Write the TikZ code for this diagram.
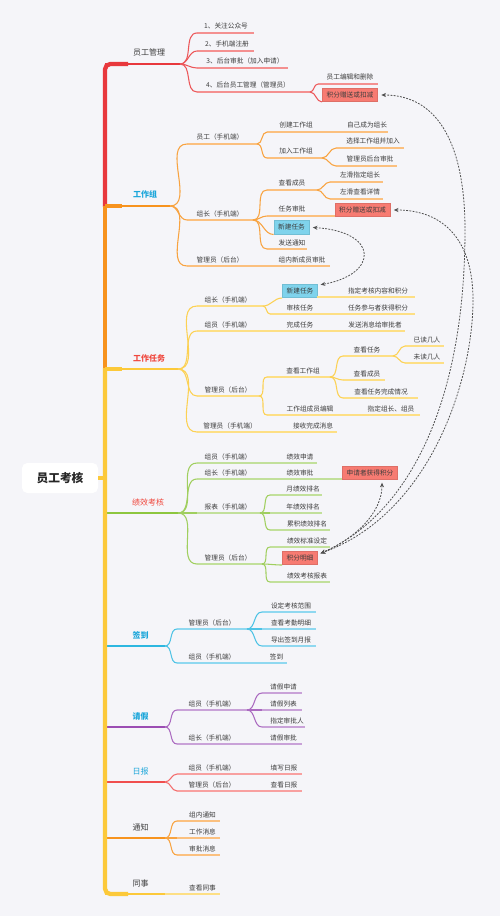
\documentclass[tikz,border=0pt]{standalone}
\usepackage{fontspec}
\setmainfont{Noto Sans CJK SC}
\usetikzlibrary{arrows.meta}
\definecolor{bg}{HTML}{F5F5F9}
\definecolor{txtc}{HTML}{3D3D3D}
\definecolor{kred}{HTML}{E8383D}
\definecolor{kredl}{HTML}{F49090}
\definecolor{korange}{HTML}{F7931E}
\definecolor{korangel}{HTML}{FBC07F}
\definecolor{kyellow}{HTML}{FCC93A}
\definecolor{kyellowl}{HTML}{FDDF85}
\definecolor{kgreen}{HTML}{8DC63F}
\definecolor{kgreenl}{HTML}{C2E09B}
\definecolor{kcyan}{HTML}{2DB7E0}
\definecolor{kcyanl}{HTML}{8FD8F0}
\definecolor{kpurple}{HTML}{9B4DB3}
\definecolor{kpurplel}{HTML}{C9A2D8}
\definecolor{kred2}{HTML}{F04E4E}
\definecolor{kred2l}{HTML}{F8A0A0}
\definecolor{tcyan}{HTML}{1BA6DA}
\definecolor{tred}{HTML}{F0483E}
\definecolor{boxred}{HTML}{F77B72}
\definecolor{boxcyan}{HTML}{7FD3EC}
\definecolor{relc}{HTML}{505050}
\newcommand\mmcol[2]{\colorlet{bc}{#1}\colorlet{bcl}{#2}\colorlet{bcm}{#1!65!#2}}
\newcommand\mmtopic[6]{%
  \coordinate (#1s) at (#2,#4);
  \coordinate (#1e) at (#3,#4);
  \draw[ul] (#1s) -- (#1e);
  \node[txt] (#1) at (#5,#4-4) {#6};}
\newcommand\mmmain[6]{%
  \coordinate (#1s) at (105,#2);
  \coordinate (#1e) at (#3,#2);
  \draw[mbr] (#1s) -- (#1e);
  \node[mlab,#5] (#1) at (#4,#2-8) {#6};}
\newcommand\mmlink[2]{\draw[cbr] (#1) to[out=0,in=180] (#2);}
\begin{document}
\begin{tikzpicture}[x=0.75pt,y=-0.75pt,
 txt/.style={font=\fontsize{5}{6}\selectfont, text=txtc, anchor=base, inner sep=0pt},
 mlab/.style={font=\fontsize{6}{7.5}\selectfont, anchor=base, inner sep=0pt},
 trunk/.style={line width=3.2pt},
 mbr/.style={line width=1.7pt, bc},
 cbr/.style={line width=0.8pt, bcm},
 ul/.style={line width=0.8pt, bcl},
 hbox/.style={font=\fontsize{5}{6}\selectfont, text=txtc, inner xsep=3.2pt, inner ysep=0pt, minimum height=10pt, text height=4.3pt, text depth=0.9pt, line width=0.5pt},
 rbox/.style={hbox, fill=boxred, draw=boxred!90!black},
 cbox/.style={hbox, fill=boxcyan, draw=boxcyan!90!black},
 rell/.style={relc, line width=0.6pt, dash pattern=on 1.4pt off 1pt, {Stealth[length=3.5pt,width=3pt]}-{Stealth[length=3.5pt,width=3pt]}}
]
\useasboundingbox (0,0) rectangle (500,916);
\fill[bg] (0,0) rectangle (500,916);

% ---------- 员工管理
\mmcol{kred}{kredl}
\mmmain{m1}{64}{180}{149}{text=txtc}{员工管理}
\mmtopic{a1}{197}{254}{33}{226}{1、关注公众号}
\mmtopic{a2}{197}{254}{51}{227}{2、手机端注册}
\mmtopic{a3}{197}{288}{68}{245}{3、后台审批（加入申请）}
\mmtopic{a4}{197}{310}{92}{248}{4、后台员工管理（管理员）}
\mmtopic{a41}{318}{378}{84}{350}{员工编辑和删除}
\node[rbox] (a42) at (350,95) {积分赠送或扣减};
\mmlink{m1e}{a1s}\mmlink{m1e}{a2s}\mmlink{m1e}{a3s}\mmlink{m1e}{a4s}
\mmlink{a4e}{a41s}\mmlink{a4e}{a42.south west}

% ---------- 工作组
\mmcol{korange}{korangel}
\mmmain{m2}{206}{170}{145}{text=tcyan}{\bfseries 工作组}
\mmtopic{b1}{187}{257}{144}{220}{员工（手机端）}
\mmtopic{b11}{267}{330}{132}{296}{创建工作组}
\mmtopic{b111}{330}{388}{132}{367}{自己成为组长}
\mmtopic{b12}{267}{322}{158}{296}{加入工作组}
\mmtopic{b121}{336}{404}{148}{373}{选择工作组并加入}
\mmtopic{b122}{336}{397}{166}{370}{管理员后台审批}
\mmtopic{b2}{187}{253}{220}{220}{组长（手机端）}
\mmtopic{b21}{267}{317}{190}{292}{查看成员}
\mmtopic{b211}{330}{383}{182}{360}{左滑指定组长}
\mmtopic{b212}{330}{383}{199}{360}{左滑查看详情}
\mmtopic{b22}{267}{335}{216}{292}{任务审批}
\node[rbox] (b221) at (362.5,210) {积分赠送或扣减};
\node[cbox] (b23) at (291.5,227.5) {新建任务};
\mmtopic{b24}{267}{307}{249}{292}{发送通知}
\mmtopic{b3}{187}{262}{266}{220}{管理员（后台）}
\mmtopic{b31}{262}{330}{266}{302}{组内新成员审批}
\mmlink{m2e}{b1s}\mmlink{m2e}{b2s}\mmlink{m2e}{b3s}
\mmlink{b1e}{b11s}\mmlink{b1e}{b12s}
\mmlink{b12e}{b121s}\mmlink{b12e}{b122s}
\mmlink{b2e}{b21s}\mmlink{b2e}{b22s}\mmlink{b2e}{b23.south west}\mmlink{b2e}{b24s}
\mmlink{b21e}{b211s}\mmlink{b21e}{b212s}

% ---------- 工作任务
\mmcol{kyellow}{kyellowl}
\mmmain{m3}{369}{178}{149}{text=tred}{\bfseries 工作任务}
\mmtopic{c1}{197}{263}{306}{228}{组长（手机端）}
\node[cbox] (c11) at (300,291) {新建任务};
\mmtopic{c111}{317}{415}{297}{378}{指定考核内容和积分}
\mmtopic{c12}{270}{330}{314}{300}{审核任务}
\mmtopic{c121}{330}{415}{314}{378}{任务参与者获得积分}
\mmtopic{c2}{197}{263}{331}{228}{组员（手机端）}
\mmtopic{c21}{263}{330}{331}{300}{完成任务}
\mmtopic{c211}{330}{405}{331}{375}{发送消息给审批者}
\mmtopic{c3}{197}{259}{396}{228}{管理员（后台）}
\mmtopic{c31}{267}{330}{377}{303}{查看工作组}
\mmtopic{c311}{343}{393}{356}{367}{查看任务}
\mmtopic{c3111}{405}{444}{346}{427}{已读几人}
\mmtopic{c3112}{405}{444}{363}{427}{未读几人}
\mmtopic{c312}{343}{385}{380}{367}{查看成员}
\mmtopic{c313}{343}{418}{398}{381}{查看任务完成情况}
\mmtopic{c32}{267}{350}{415}{310}{工作组成员编辑}
\mmtopic{c321}{350}{420}{415}{391}{指定组长、组员}
\mmtopic{c4}{197}{270}{432}{230}{管理员（手机端）}
\mmtopic{c41}{270}{337}{432}{313}{接收完成消息}
\mmlink{m3e}{c1s}\mmlink{m3e}{c2s}\mmlink{m3e}{c3s}\mmlink{m3e}{c4s}
\mmlink{c1e}{c11.south west}\mmlink{c1e}{c12s}
\mmlink{c3e}{c31s}\mmlink{c3e}{c32s}
\mmlink{c31e}{c311s}\mmlink{c31e}{c312s}\mmlink{c31e}{c313s}
\mmlink{c311e}{c3111s}\mmlink{c311e}{c3112s}

% ---------- 绩效考核
\mmcol{kgreen}{kgreenl}
\mmmain{m4}{513}{178}{148}{text=tred}{绩效考核}
\mmtopic{d1}{197}{263}{463}{228}{组员（手机端）}
\mmtopic{d11}{263}{317}{463}{300}{绩效申请}
\mmtopic{d2}{197}{263}{479}{228}{组长（手机端）}
\mmtopic{d21}{263}{343}{479}{300}{绩效审批}
\node[rbox] (d211) at (370,473) {申请者获得积分};
\mmtopic{d3}{197}{260}{513}{228}{报表（手机端）}
\mmtopic{d31}{270}{322}{495}{303}{月绩效排名}
\mmtopic{d32}{270}{322}{513}{303}{年绩效排名}
\mmtopic{d33}{270}{330}{530}{307}{累积绩效排名}
\mmtopic{d4}{197}{262}{564}{228}{管理员（后台）}
\mmtopic{d41}{270}{330}{547}{307}{绩效标准设定}
\node[rbox] (d42) at (300,558) {积分明细};
\mmtopic{d43}{270}{330}{582}{307}{绩效考核报表}
\mmlink{m4e}{d1s}\mmlink{m4e}{d2s}\mmlink{m4e}{d3s}\mmlink{m4e}{d4s}
\mmlink{d3e}{d31s}\mmlink{d3e}{d32s}\mmlink{d3e}{d33s}
\mmlink{d4e}{d41s}\mmlink{d4e}{d42.south west}\mmlink{d4e}{d43s}

% ---------- 签到
\mmcol{kcyan}{kcyanl}
\mmmain{m5}{646}{165}{140.5}{text=tcyan}{\bfseries 签到}
\mmtopic{e1}{177}{247}{629}{212}{管理员（后台）}
\mmtopic{e11}{262}{316}{612}{291}{设定考核范围}
\mmtopic{e12}{262}{316}{629}{291}{查看考勤明细}
\mmtopic{e13}{262}{316}{646}{291}{导出签到月报}
\mmtopic{e2}{177}{247}{663}{212}{组员（手机端）}
\mmtopic{e21}{247}{287}{663}{276.5}{签到}
\mmlink{m5e}{e1s}\mmlink{m5e}{e2s}
\mmlink{e1e}{e11s}\mmlink{e1e}{e12s}\mmlink{e1e}{e13s}

% ---------- 请假
\mmcol{kpurple}{kpurplel}
\mmmain{m6}{727}{165}{140.5}{text=tcyan}{\bfseries 请假}
\mmtopic{f1}{177}{247}{710}{212}{组员（手机端）}
\mmtopic{f11}{262}{302}{693}{283.5}{请假申请}
\mmtopic{f12}{262}{302}{710}{283.5}{请假列表}
\mmtopic{f13}{262}{305}{727}{287}{指定审批人}
\mmtopic{f2}{177}{247}{744}{212}{组长（手机端）}
\mmtopic{f21}{247}{302}{744}{283.5}{请假审批}
\mmlink{m6e}{f1s}\mmlink{m6e}{f2s}
\mmlink{f1e}{f11s}\mmlink{f1e}{f12s}\mmlink{f1e}{f13s}

% ---------- 日报
\mmcol{kred2}{kred2l}
\mmmain{m7}{782}{165}{140.5}{text=tcyan}{日报}
\mmtopic{g1}{177}{247}{774}{212}{组员（手机端）}
\mmtopic{g11}{247}{302}{774}{284}{填写日报}
\mmtopic{g2}{177}{247}{791}{212}{管理员（后台）}
\mmtopic{g21}{247}{302}{791}{284}{查看日报}
\mmlink{m7e}{g1s}\mmlink{m7e}{g2s}

% ---------- 通知
\mmcol{korange}{korangel}
\mmmain{m8}{838}{165}{140.5}{text=txtc}{通知}
\mmtopic{h1}{177}{220}{821}{202.5}{组内通知}
\mmtopic{h2}{177}{220}{838}{202.5}{工作消息}
\mmtopic{h3}{177}{220}{855}{202.5}{审批消息}
\mmlink{m8e}{h1s}\mmlink{m8e}{h2s}\mmlink{m8e}{h3s}

% ---------- 同事
\mmcol{kyellow}{kyellowl}
\mmmain{m9}{894}{165}{140.5}{text=txtc}{同事}
\mmtopic{i1}{165}{220}{894}{202.5}{查看同事}

% ---------- trunk and root
\coordinate (rj) at (105,478);
\draw[trunk, kred, rounded corners=4pt] (105,207) -- (105,64) -- (128,64);
\draw[trunk, korange] (105,206) -- (105,369);
\draw[trunk, korange] (105,206) -- (122,206);
\draw[trunk, kyellow] (105,369) -- (122,369);
\draw[trunk, kyellow, rounded corners=4pt] (105,368) -- (105,894) -- (128,894);
\node[fill=white, rounded corners=4pt, minimum width=57pt, minimum height=22.5pt,
      font=\fontsize{8.8}{10}\selectfont\bfseries, text=black!85] (root) at (60,478) {员工考核};
\draw[trunk, kyellow] (root.east) -- (rj);

% ---------- relationships
\coordinate (jm) at ([xshift=2pt,yshift=3.5pt]d42.east);
\draw[rell] ([xshift=2.5pt]a42.east) .. controls +(60,0) and +(0,-80) .. (465,230) .. controls +(0,170) and +(90,-40) .. (jm);
\draw[rell] ([xshift=2.5pt]b221.east) .. controls +(50,0) and +(0,-60) .. (473,300) .. controls +(0,80) and +(110,-40) .. (jm);
\draw[rell] ([xshift=9pt,yshift=-2pt]d211.south) .. controls +(0,30) and +(35,-15) .. (jm);
\draw[rell] ([xshift=2.5pt]b23.east) .. controls +(67,4) and +(58,-10) .. ([xshift=2pt,yshift=-0.5pt]c11.north east);
\end{tikzpicture}
\end{document}
